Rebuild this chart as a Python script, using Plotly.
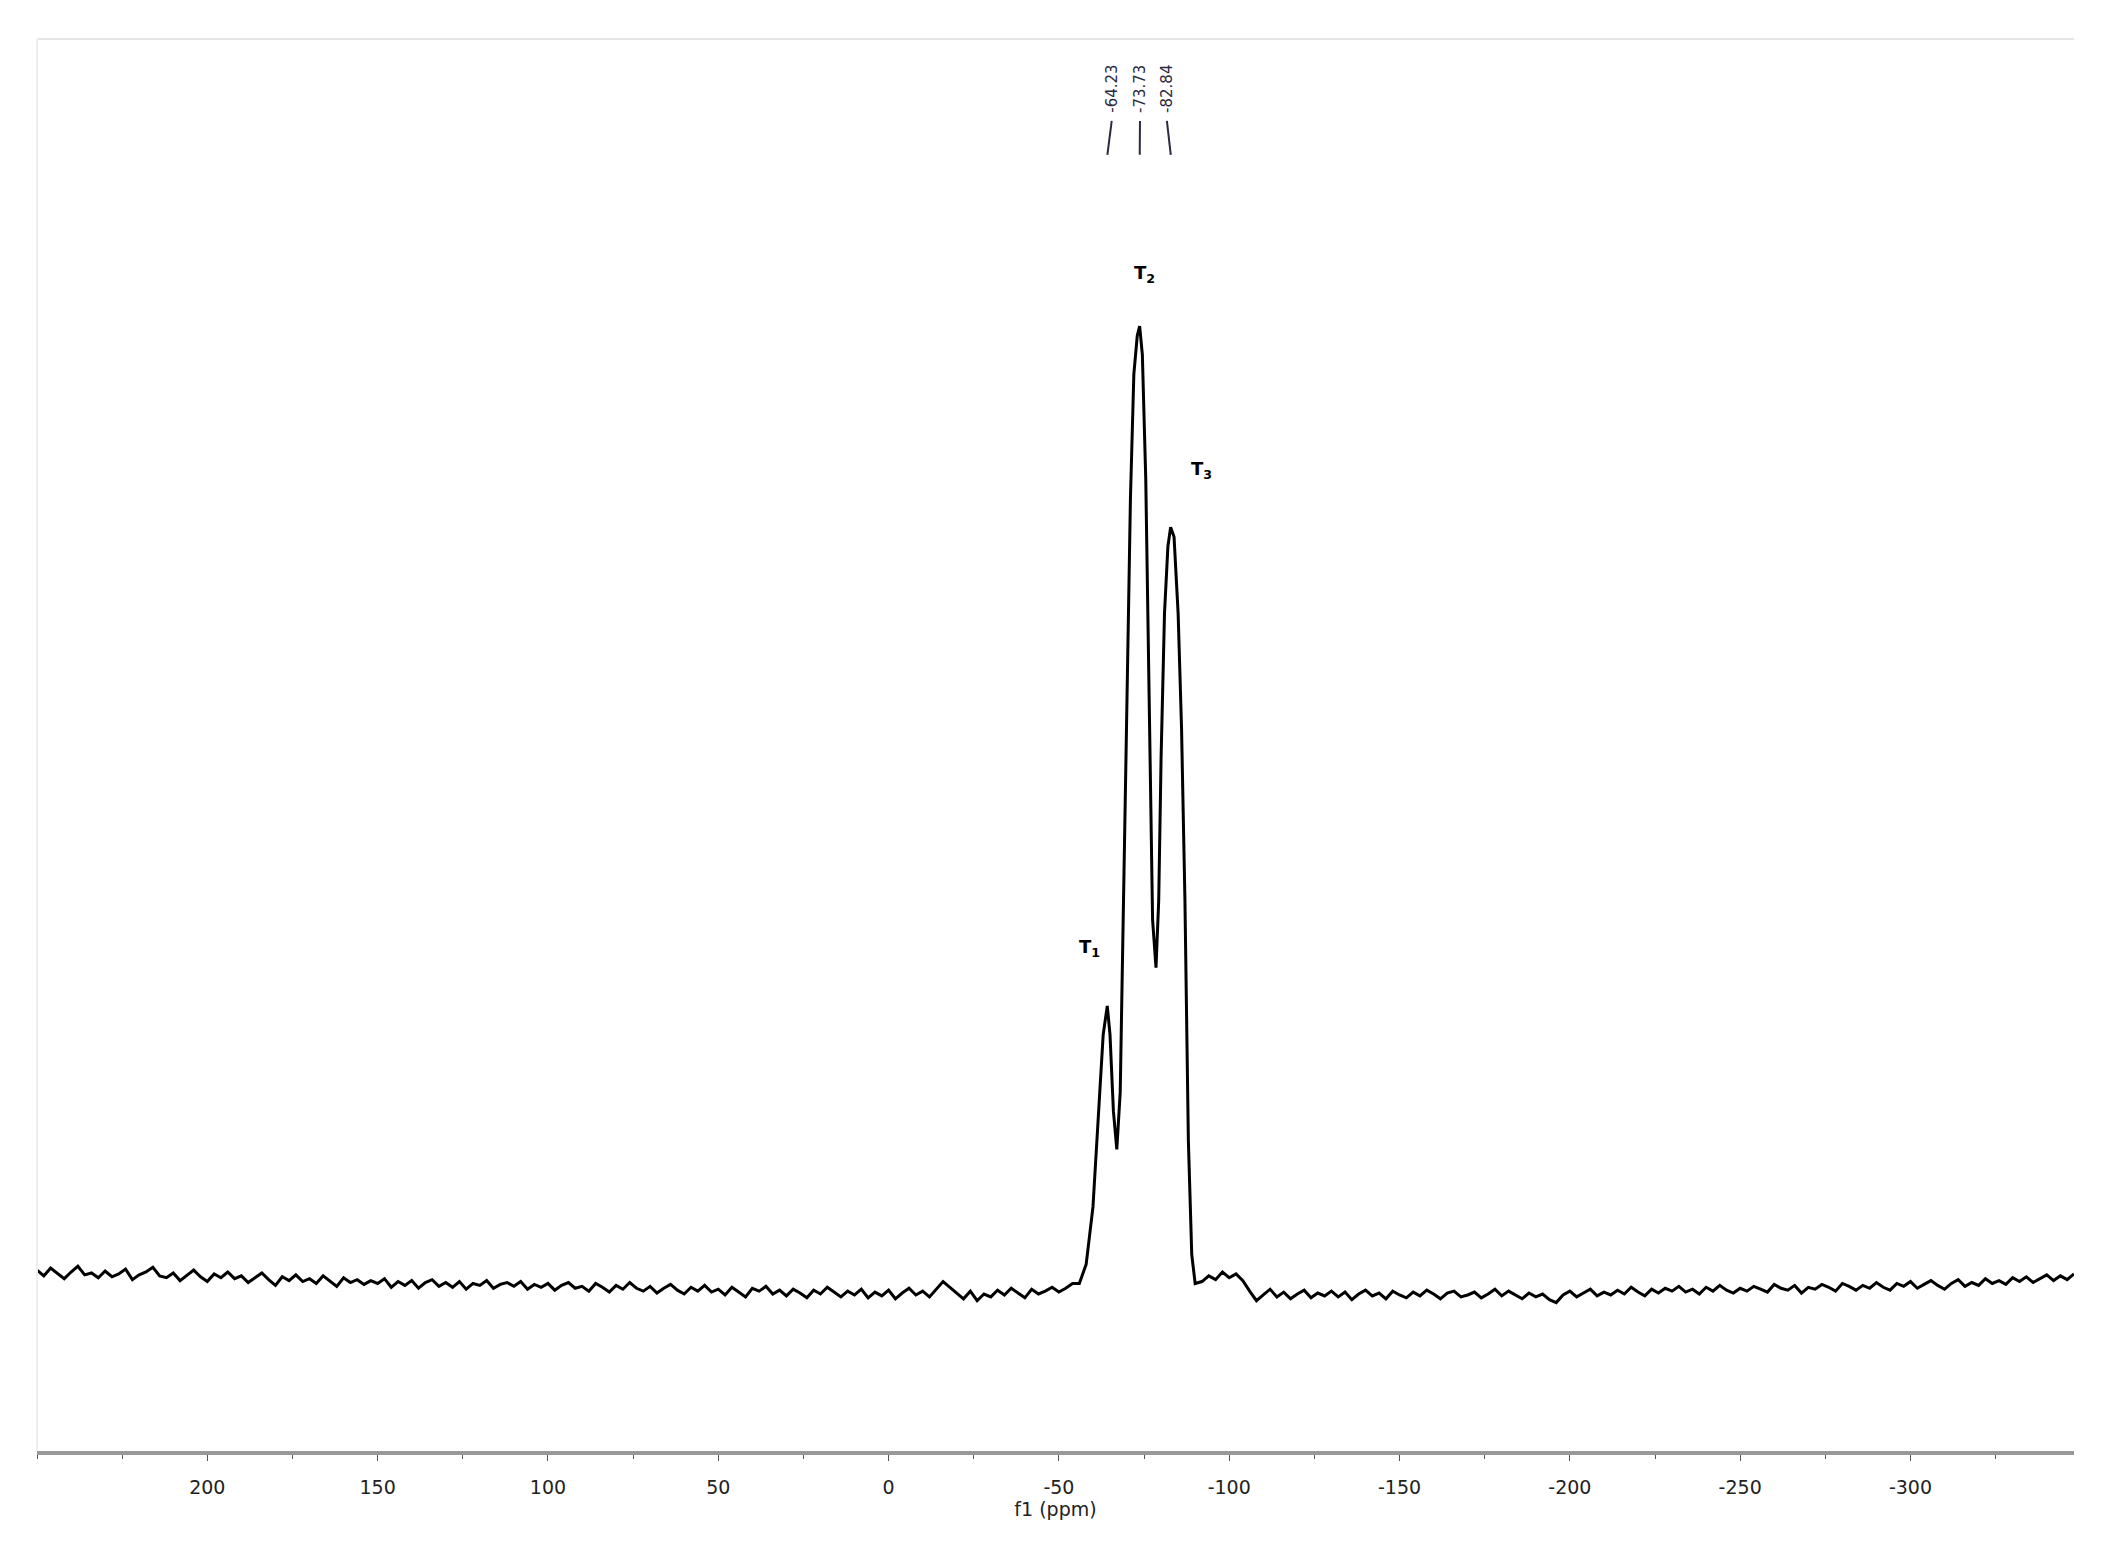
import plotly.graph_objects as go

# baseline readings (thousandths of T2 height), 2 ppm steps
left_start, left_end = 250, -54
baseline_left_milli = [
    14, 8, 16, 10, 5, 12, 18, 9, 11, 6,
    13, 7, 10, 15, 4, 9, 12, 17, 8, 6,
    11, 3, 9, 14, 7, 2, 10, 6, 12, 5,
    8, 1, 6, 11, 4, -2, 7, 3, 9, 2,
    5, 0, 8, 2, -3, 6, 1, 4, -1, 3,
    0, 5, -4, 2, -2, 3, -5, 1, 4, -3,
    1, -4, 2, -6, 0, -2, 3, -5, -1, 1,
    -3, 2, -6, -1, -4, 0, -7, -2, 1, -5,
    -3, -8, 0, -4, -9, -2, -6, 1, -5, -8,
    -3, -10, -5, -1, -7, -11, -4, -8, -2, -9,
    -6, -12, -4, -9, -14, -5, -8, -3, -11, -7,
    -13, -6, -10, -15, -7, -11, -4, -9, -14, -8,
    -12, -6, -15, -9, -13, -7, -16, -10, -5, -12,
    -8, -14, -6, 2, -4, -10, -16, -8, -18, -11,
    -14, -7, -12, -5, -10, -15, -6, -11, -8, -4,
    -9, -5, 0]
right_start, right_end = -92, -348
baseline_right_milli = [
    2, 8, 4, 12, 6, 10, 3, -8, -18, -12,
    -6, -14, -9, -16, -11, -7, -15, -10, -13, -8,
    -14, -9, -17, -11, -7, -13, -10, -16, -8, -12,
    -15, -9, -13, -7, -11, -16, -10, -8, -14, -12,
    -9, -15, -11, -6, -13, -8, -12, -16, -10, -14,
    -11, -17, -20, -12, -8, -14, -10, -6, -13, -9,
    -12, -7, -11, -4, -9, -13, -6, -10, -5, -8,
    -3, -9, -6, -11, -4, -8, -2, -7, -10, -5,
    -8, -3, -6, -9, -1, -5, -7, -2, -10, -4,
    -6, -1, -4, -8, 0, -3, -7, -2, -5, 1,
    -4, -7, 0, -3, 2, -5, -1, 3, -2, -6,
    0, 4, -3, 1, -2, 5, 0, 3, -1, 6,
    2, 7, 1, 5, 9, 3, 8, 4, 10]

peak_ppm = [-56, -58, -60, -62, -63, -64.2, -65, -66, -67, -68, -69, -70, -71, -72, -73, -73.7,
            -74.5, -75.5, -76.5, -77.5, -78.5, -79.3, -80, -81, -82, -82.8, -83.8, -85, -86, -87,
            -88, -89, -90]
peak_int = [0.0, 0.02, 0.08, 0.2, 0.26, 0.29, 0.26, 0.18, 0.14, 0.2, 0.4, 0.62, 0.82, 0.95, 0.99, 1.0,
            0.97, 0.84, 0.6, 0.38, 0.33, 0.4, 0.55, 0.7, 0.77, 0.79, 0.78, 0.7, 0.58, 0.4,
            0.15, 0.03, 0.0]

peak_labels = ["-64.23", "-73.73", "-82.84"]
peak_label_x = [-65.5, -73.8, -81.7]
peak_label_tip = [-64.23, -73.73, -82.84]
species = ["T<sub>1</sub>", "T<sub>2</sub>", "T<sub>3</sub>"]
species_x = [-59, -75, -92]
species_y = [0.35, 1.055, 0.85]
tick_vals = [200, 150, 100, 50, 0, -50, -100, -150, -200, -250, -300]
tick_text = ["200", "150", "100", "50", "0", "-50", "-100", "-150", "-200", "-250", "-300"]

x = list(range(left_start, left_end - 1, -2))
y = [v / 1000 for v in baseline_left_milli]
x += peak_ppm
y += peak_int
x += list(range(right_start, right_end - 1, -2))
y += [v / 1000 for v in baseline_right_milli]

fig = go.Figure(go.Scatter(x=x, y=y, mode="lines", line=dict(color="black", width=3)))

for s, sx, sy in zip(species, species_x, species_y):
    fig.add_annotation(x=sx, y=sy, text="<b>" + s + "</b>", showarrow=False,
                       font=dict(size=18, color="black", family="DejaVu Sans"))
for lab, lx, tip in zip(peak_labels, peak_label_x, peak_label_tip):
    fig.add_annotation(x=lx, y=0.983, yref="paper", text=lab, textangle=-90, showarrow=False,
                       yanchor="top", font=dict(size=15, color="#2a2a40", family="DejaVu Sans"))
    fig.add_shape(type="line", x0=lx, x1=tip, y0=0.942, y1=0.918, yref="paper",
                  line=dict(color="#2a2a40", width=2))

fig.add_shape(type="line", xref="paper", yref="paper", x0=0, x1=1, y0=1, y1=1,
              line=dict(color="#e6e6e6", width=2))
fig.add_shape(type="line", xref="paper", yref="paper", x0=0, x1=0, y0=0, y1=1,
              line=dict(color="#eeeeee", width=2))

fig.update_layout(
    width=2119, height=1555, paper_bgcolor="white", plot_bgcolor="white",
    margin=dict(l=29, r=53, t=31, b=112), showlegend=False,
    xaxis=dict(range=[250, -348], tickvals=tick_vals, ticktext=tick_text, ticks="outside", ticklen=6,
               tickcolor="#555", showgrid=False, zeroline=False, showline=True,
               linecolor="#999", linewidth=4, ticklabelstandoff=10,
               minor=dict(dtick=25, ticks="outside", ticklen=4, tickcolor="#555"),
               tickfont=dict(size=19, color="#222", family="DejaVu Sans"),
               title=dict(text="f1 (ppm)", standoff=0, font=dict(size=19, color="#222", family="DejaVu Sans"))),
    yaxis=dict(range=[-0.175, 1.30], visible=False),
)
fig.write_html("out.html")
